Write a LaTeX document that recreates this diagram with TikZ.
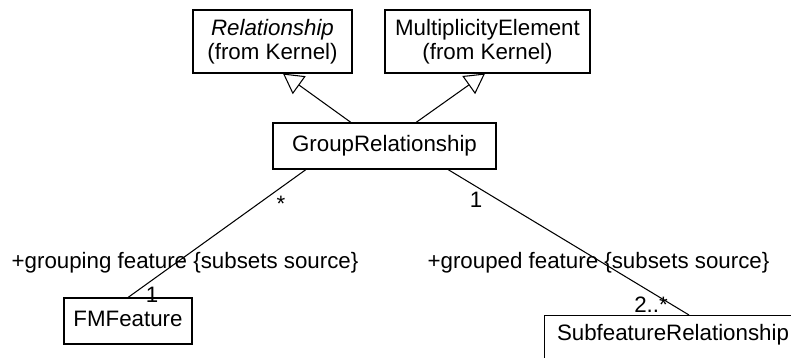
\documentclass[tikz,border=0pt]{standalone}
\usepackage{fontspec}
\setmainfont{Liberation Sans}
\usetikzlibrary{arrows.meta, positioning, calc}

\begin{document}
\begin{tikzpicture}[
        x=0.02cm, y=-0.02cm,
        every node/.style={font=\fontsize{12.7}{13.3}\selectfont},
        cls/.style={draw, line width=0.6pt, inner sep=0pt, align=center, text depth=0.25em},
        gen/.style={-{Triangle[open, length=0.4cm, width=0.44cm]}, line width=0.6pt},
        assoc/.style={line width=0.6pt},
        lbl/.style={inner sep=0pt}
    ]
    \clip (0,0) rectangle (791,358);
    % classes
    \node [cls, minimum width=3.18cm, minimum height=1.26cm] (rel) at (272.5,41.5) {\textit{Relationship}\\(from Kernel)};
    \node [cls, minimum width=4.1cm, minimum height=1.26cm] (mult) at (487.5,41.5) {MultiplicityElement\\(from Kernel)};
    \node [cls, minimum width=4.46cm, minimum height=0.92cm] (grp) at (384.5,146) {GroupRelationship};
    \node [cls, minimum width=2.56cm, minimum height=0.92cm] (fmf) at (128,321) {FMFeature};
    \node [cls, anchor=north, minimum width=5.16cm, text height=0.5cm, text depth=0.6cm] (sub) at (673,315) {SubfeatureRelationship};
    % generalizations
    \draw [gen] ($(grp.north)+(-33.5,0)$) -- ($(rel.south)+(10.5,0)$);
    \draw [gen] ($(grp.north)+(31.5,0)$) -- ($(mult.south)+(-2.5,0)$);
    % associations
    \draw [assoc] ($(grp.south)+(-78.5,0)$) -- (fmf.north);
    \draw [assoc] ($(grp.south)+(63.5,0)$) -- ($(sub.north)+(16,0)$);
    % ends
    \node [lbl] (m1) at (281,204) {*};
    \node [lbl] (m2) at (152,295) {1};
    \node [lbl] (r1) at (185,263) {+grouping feature \{subsets source\}};
    \node [lbl] (m3) at (476,200) {1};
    \node [lbl] (m4) at (651,305) {2..*};
    \node [lbl] (r2) at (598.5,263) {+grouped feature \{subsets source\}};
\end{tikzpicture}
\end{document}
